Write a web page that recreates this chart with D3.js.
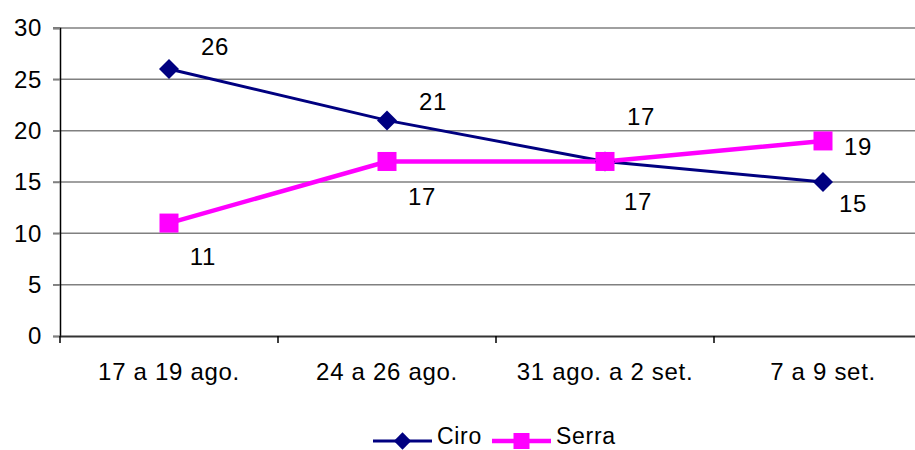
<!DOCTYPE html>
<html>
<head>
<meta charset="utf-8">
<script src="https://cdn.jsdelivr.net/npm/d3@7"></script>
<style>
  html, body { margin: 0; padding: 0; background: #fff; }
  svg { display: block; font-family: "Liberation Sans", Arial, sans-serif; }
  text { letter-spacing: 0.7px; }
</style>
</head>
<body>
<svg id="chart" width="915" height="450"></svg>
<script>
// Poll periods and results
const categories = ["17 a 19 ago.", "24 a 26 ago.", "31 ago. a 2 set.", "7 a 9 set."];
const ciro = [26, 21, 17, 15];
const serra = [11, 17, 17, 19];
const yTicks = [0, 5, 10, 15, 20, 25, 30];

// Value label placement (offset of the label centre from each point, in px)
const ciroLabelOffsets = [[46, -23], [46, -19], [36, -45], [30, 21]];
const serraLabelOffsets = [[34, 33], [35, 35], [33, 40], [35, 5]];

const FONT = "'Liberation Sans', Arial, sans-serif";
const svg = d3.select("#chart");
const plot = { left: 60, top: 28, right: 932, bottom: 336 };

const x = d3.scaleBand().domain(categories).range([plot.left, plot.right]);
const y = d3.scaleLinear().domain([0, 30]).range([plot.bottom, plot.top]);
const cx = d => x(d) + x.bandwidth() / 2;

// Horizontal gridlines
svg.append("g")
  .selectAll("line")
  .data(yTicks.filter(t => t > 0))
  .join("line")
  .attr("x1", plot.left - 7).attr("x2", plot.right)
  .attr("y1", d => y(d)).attr("y2", d => y(d))
  .attr("stroke", "#808080").attr("stroke-width", 1.5);

// Y axis
const yAxis = svg.append("g")
  .attr("transform", `translate(${plot.left},0)`)
  .call(d3.axisLeft(y).tickValues(yTicks).tickSize(7).tickPadding(11));
yAxis.attr("font-family", FONT).attr("font-size", 24);
yAxis.select(".domain").attr("stroke", "#000").attr("stroke-width", 1.5);
yAxis.selectAll(".tick line").attr("stroke", "#808080").attr("stroke-width", 1.5);
yAxis.selectAll(".tick text").attr("fill", "#000");

// X axis
const xAxis = svg.append("g")
  .attr("transform", `translate(0,${plot.bottom})`)
  .call(d3.axisBottom(x).tickSize(0).tickPadding(44));
xAxis.attr("font-family", FONT).attr("font-size", 24);
xAxis.select(".domain").attr("stroke", "#333").attr("stroke-width", 2);
xAxis.selectAll(".tick text").attr("fill", "#000").attr("dy", 0);

// Category separator ticks
svg.append("g")
  .selectAll("line")
  .data(categories)
  .join("line")
  .attr("x1", d => x(d)).attr("x2", d => x(d))
  .attr("y1", plot.bottom).attr("y2", plot.bottom + 7)
  .attr("stroke", "#000").attr("stroke-width", 1.5);

const line = d3.line().x((d, i) => cx(categories[i])).y(d => y(d));

// Ciro series
svg.append("path").datum(ciro)
  .attr("d", line).attr("fill", "none")
  .attr("stroke", "#000080").attr("stroke-width", 3);

// Serra series
svg.append("path").datum(serra)
  .attr("d", line).attr("fill", "none")
  .attr("stroke", "#FF00FF").attr("stroke-width", 4.5);

const diamond = d3.symbol().type(d3.symbolSquare).size(200);
svg.append("g").selectAll("path")
  .data(ciro)
  .join("path")
  .attr("d", diamond)
  .attr("transform", (d, i) => `translate(${cx(categories[i])},${y(d)}) rotate(45)`)
  .attr("fill", "#000080");

svg.append("g").selectAll("rect")
  .data(serra)
  .join("rect")
  .attr("x", (d, i) => cx(categories[i]) - 9.5)
  .attr("y", d => y(d) - 9.5)
  .attr("width", 19).attr("height", 19)
  .attr("fill", "#FF00FF");

// Value labels
function labels(values, offsets) {
  svg.append("g").selectAll("text")
    .data(values)
    .join("text")
    .attr("x", (d, i) => cx(categories[i]) + offsets[i][0])
    .attr("y", (d, i) => y(d) + offsets[i][1])
    .attr("dy", "0.36em")
    .attr("text-anchor", "middle")
    .attr("font-family", FONT)
    .attr("font-size", 24)
    .attr("fill", "#000")
    .text(d => d);
}
labels(ciro, ciroLabelOffsets);
labels(serra, serraLabelOffsets);

// Legend
const legend = svg.append("g").attr("transform", "translate(0,441)");
const items = [
  { name: "Ciro", color: "#000080", width: 3, x: 373, marker: "diamond" },
  { name: "Serra", color: "#FF00FF", width: 4.5, x: 492, marker: "square" }
];
items.forEach(it => {
  legend.append("line")
    .attr("x1", it.x).attr("x2", it.x + 59)
    .attr("y1", 0).attr("y2", 0)
    .attr("stroke", it.color).attr("stroke-width", it.width);
  if (it.marker === "diamond") {
    legend.append("path")
      .attr("d", d3.symbol().type(d3.symbolSquare).size(150))
      .attr("transform", `translate(${it.x + 29.5},0) rotate(45)`)
      .attr("fill", it.color);
  } else {
    legend.append("rect")
      .attr("x", it.x + 29.5 - 8).attr("y", -8)
      .attr("width", 16).attr("height", 16)
      .attr("fill", it.color);
  }
  legend.append("text")
    .attr("x", it.x + 64).attr("y", 3)
    .attr("font-family", FONT)
    .attr("font-size", 23).attr("fill", "#000")
    .text(it.name);
});
</script>
</body>
</html>
